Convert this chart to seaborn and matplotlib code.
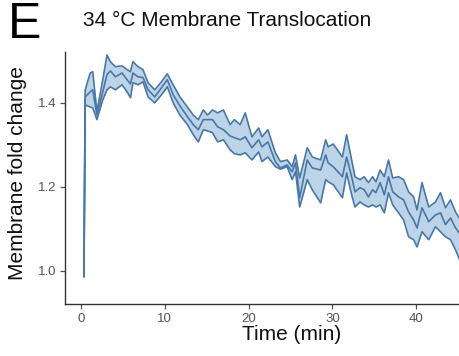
import matplotlib
matplotlib.use("Agg")
import matplotlib.pyplot as plt
import seaborn as sns
import pandas as pd

time_min = [0.35, 0.5, 1.1, 1.4, 1.9, 2.6, 3.1, 3.5, 4.1, 4.9, 5.5, 5.9, 6.2, 6.8, 7.4,
            8.0, 8.8, 9.6, 10.3, 11.0, 11.8, 12.7, 13.4, 14.0, 14.6, 15.1, 15.7, 16.3,
            17.0, 17.8, 18.3, 19.0, 19.6, 20.4, 21.2, 21.6, 22.3, 23.2, 23.8, 24.6,
            25.2, 25.6, 26.1, 27.0, 27.6, 28.6, 29.2, 29.5, 30.1, 31.2, 31.7, 32.3,
            32.7, 33.3, 33.8, 34.3, 34.8, 35.2, 35.7, 36.2, 36.7, 37.2, 37.9, 38.5,
            39.1, 39.7, 40.1, 40.7, 41.5, 42.3, 42.9, 43.5, 44.1, 44.7, 45.3]

mean_fc = [0.986, 1.414, 1.426, 1.431, 1.371, 1.426, 1.467, 1.476, 1.462, 1.471, 1.455,
           1.445, 1.471, 1.462, 1.460, 1.431, 1.414, 1.436, 1.455, 1.419, 1.393, 1.367,
           1.348, 1.336, 1.360, 1.360, 1.360, 1.343, 1.336, 1.321, 1.317, 1.312, 1.319,
           1.293, 1.312, 1.295, 1.307, 1.260, 1.245, 1.252, 1.236, 1.257, 1.174, 1.264,
           1.245, 1.240, 1.276, 1.257, 1.248, 1.224, 1.271, 1.224, 1.188, 1.198, 1.193,
           1.176, 1.193, 1.186, 1.210, 1.181, 1.224, 1.188, 1.176, 1.169, 1.140, 1.121,
           1.102, 1.150, 1.117, 1.133, 1.138, 1.110, 1.126, 1.102, 1.086]

upper_fc = [0.986, 1.431, 1.471, 1.474, 1.379, 1.455, 1.514, 1.498, 1.486, 1.488, 1.479,
            1.474, 1.498, 1.486, 1.479, 1.448, 1.431, 1.450, 1.469, 1.443, 1.414, 1.390,
            1.371, 1.360, 1.383, 1.371, 1.383, 1.376, 1.383, 1.348, 1.360, 1.348, 1.376,
            1.319, 1.340, 1.319, 1.336, 1.281, 1.260, 1.264, 1.248, 1.276, 1.221, 1.293,
            1.271, 1.264, 1.312, 1.295, 1.302, 1.271, 1.324, 1.264, 1.224, 1.217, 1.224,
            1.210, 1.224, 1.212, 1.240, 1.224, 1.264, 1.221, 1.224, 1.217, 1.188, 1.176,
            1.145, 1.210, 1.152, 1.164, 1.186, 1.150, 1.169, 1.140, 1.121]

lower_fc = [0.986, 1.395, 1.390, 1.388, 1.360, 1.407, 1.431, 1.438, 1.431, 1.443, 1.426,
            1.412, 1.448, 1.443, 1.450, 1.414, 1.400, 1.419, 1.438, 1.400, 1.371, 1.348,
            1.324, 1.307, 1.336, 1.333, 1.329, 1.307, 1.312, 1.288, 1.279, 1.276, 1.281,
            1.264, 1.283, 1.260, 1.271, 1.248, 1.242, 1.248, 1.217, 1.236, 1.152, 1.217,
            1.193, 1.162, 1.217, 1.212, 1.205, 1.174, 1.233, 1.181, 1.152, 1.164, 1.157,
            1.152, 1.157, 1.152, 1.157, 1.138, 1.186, 1.157, 1.138, 1.121, 1.081, 1.074,
            1.057, 1.093, 1.074, 1.105, 1.093, 1.081, 1.074, 1.050, 1.021]

x_ticks = [0, 10, 20, 30, 40]
y_ticks = [1.0, 1.2, 1.4]
y_tick_labels = ["1.0", "1.2", "1.4"]

df = pd.DataFrame({"time": time_min, "mean": mean_fc, "upper": upper_fc, "lower": lower_fc})

sns.set_style("white")
plt.rcParams["font.family"] = ["Liberation Sans", "DejaVu Sans"]

W, H = 459, 356
fig = plt.figure(figsize=(W / 100, H / 100), dpi=100)
ax = fig.add_axes([65 / W, 1 - 304 / H, (W - 65) / W + 0.01, (304 - 52) / H])

line_c = "#4a78a6"
fill_c = "#bdd3e8"
ax.fill_between(df["time"], df["lower"], df["upper"], color=fill_c, lw=0, zorder=1)
for col in ["upper", "lower", "mean"]:
    sns.lineplot(data=df, x="time", y=col, ax=ax, color=line_c, lw=1.2,
                 estimator=None, sort=False, zorder=2)

ax.set_xlim(-1.91, 45.16 + 0.5)
ax.set_ylim(0.921, 1.521)
ax.set_xticks(x_ticks)
ax.set_yticks(y_ticks)
ax.set_yticklabels(y_tick_labels)
ax.tick_params(axis="both", which="major", direction="out", length=3.5, width=0.9,
               color="#555555", labelsize=9.5, labelcolor="#555555", pad=3,
               left=True, bottom=True)
for s in ["top", "right"]:
    ax.spines[s].set_visible(False)
for s in ["left", "bottom"]:
    ax.spines[s].set_color("#333333")
    ax.spines[s].set_linewidth(1.0)

ax.set_xlabel("")
ax.set_ylabel("")
fig.text(292 / W, 1 - 334 / H, "Time (min)", fontsize=15, ha="center", va="center", color="#111111")
fig.text(18 / W, 1 - 173 / H, "Membrane fold change", fontsize=15, rotation=90,
         ha="center", va="center", color="#111111")
fig.text(83 / W, 1 - 21 / H, "34 °C Membrane Translocation", fontsize=15,
         ha="left", va="center", color="#111111")
fig.text(8 / W, 1 - 25 / H, "E", fontsize=36, ha="left", va="center", color="#000000")

fig.savefig("out.png", dpi=100)
